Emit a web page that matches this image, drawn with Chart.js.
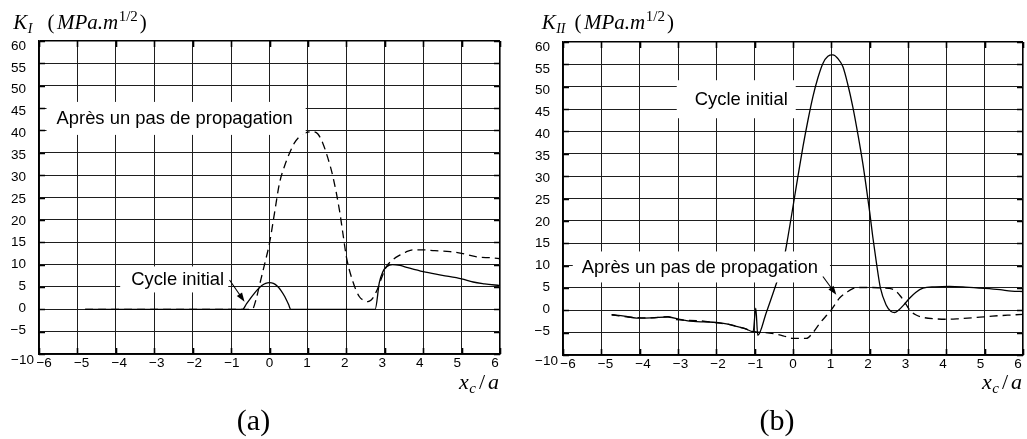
<!DOCTYPE html>
<html>
<head>
<meta charset="utf-8">
<script src="https://cdn.jsdelivr.net/npm/chart.js@4/dist/chart.umd.min.js"></script>
<style>
  html, body { margin: 0; padding: 0; background: #fff; }
  #wrap { position: relative; width: 1027px; height: 439px; overflow: hidden; }
  canvas { position: absolute; top: 0; }
</style>
</head>
<body>
<div id="wrap">
  <canvas id="chartA" width="513" height="439" style="left:0;width:513px;height:439px"></canvas>
  <canvas id="chartB" width="514" height="439" style="left:513px;width:514px;height:439px"></canvas>
</div>
<script>
// Axis ticks shared by both panels
const xTicks = [-6, -5, -4, -3, -2, -1, 0, 1, 2, 3, 4, 5, 6];
const yTicks = [-10, -5, 0, 5, 10, 15, 20, 25, 30, 35, 40, 45, 50, 55, 60];

// Panel (a): K_I versus x_c/a
const aInitialX = [-4.8, -0.7, -0.6, -0.5, -0.4, -0.3, -0.2, -0.1, 0, 0.1, 0.2, 0.3, 0.4, 0.5, 0.55,
                   2.75, 2.86, 2.95, 3.05, 3.2, 3.4, 3.6, 4.0, 4.5, 5.0, 5.3, 5.6, 6.0];
const aInitialY = [0, 0, 1.2, 2.4, 3.5, 4.5, 5.3, 5.8, 5.95, 5.8, 5.2, 4.2, 2.8, 1.0, 0,
                   0, 6.0, 8.4, 9.5, 10.0, 9.8, 9.3, 8.4, 7.6, 6.8, 6.1, 5.7, 5.3];
const aPropX = [-4.8, -0.45, -0.35, -0.26, -0.13, 0, 0.13, 0.26, 0.39, 0.52, 0.65, 0.78, 0.95, 1.13,
                1.26, 1.39, 1.52, 1.65, 1.82, 1.91, 2.0, 2.17, 2.34, 2.46, 2.56, 2.69, 2.8, 2.93, 3.04,
                3.2, 3.39, 3.55, 3.73, 4.0, 4.3, 4.7, 5.0, 5.4, 5.8, 6.0];
const aPropY = [0, 0, 2.2, 5.4, 10.0, 14.8, 21.5, 28.2, 32.0, 34.9, 37.2, 38.6, 39.5, 39.7,
                39.2, 37.1, 33.8, 29.7, 22.2, 17.0, 11.8, 6.2, 2.8, 2.0, 1.7, 2.5, 4.3, 7.3, 9.5,
                11.0, 12.1, 12.8, 13.3, 13.3, 13.1, 12.9, 12.5, 11.7, 11.5, 11.3];

// Panel (b): K_II versus x_c/a
const bInitialX = [-4.73, -4.4, -4.08, -3.7, -3.26, -2.9, -2.6, -2.3, -2.0, -1.7, -1.48, -1.25, -1.04,
                   -0.97, -0.92, -0.7, -0.43, -0.26, -0.13, 0, 0.13, 0.26, 0.39, 0.52, 0.65, 0.78, 0.91,
                   1.04, 1.17, 1.3, 1.43, 1.56, 1.69, 1.82, 1.91, 2.0, 2.08, 2.17, 2.28, 2.43, 2.55, 2.65,
                   2.75, 2.9, 3.04, 3.2, 3.39, 3.7, 4.08, 4.5, 5.0, 5.4, 5.7, 6.0];
const bInitialY = [-1.0, -1.3, -1.75, -1.7, -1.5, -2.1, -2.5, -2.6, -2.7, -3.1, -3.6, -4.1, -4.8,
                   0.5, -5.6, -0.6, 6.1, 10.5, 16.5, 23.2, 30.0, 36.6, 42.5, 47.8, 52.0, 55.2, 56.8,
                   57.1, 56.3, 54.5, 50.5, 45.5, 39.5, 32.9, 27.6, 22.0, 16.5, 11.0, 5.0, 1.2, -0.2, -0.5,
                   0.0, 1.3, 2.7, 4.0, 4.96, 5.25, 5.35, 5.2, 4.9, 4.6, 4.3, 4.2];
const bPropX = [-4.73, -4.3, -3.7, -3.26, -3.04, -2.52, -2.0, -1.65, -1.3, -1.0, -0.61, -0.26, 0.0,
                0.35, 0.52, 0.7, 0.85, 1.0, 1.22, 1.4, 1.55, 1.75, 2.0, 2.3, 2.5, 2.65, 2.8, 2.95,
                3.05, 3.2, 3.4, 3.7, 4.0, 4.3, 4.8, 5.2, 5.6, 6.0];
const bPropY = [-1.0, -1.5, -1.7, -1.4, -2.1, -2.3, -2.8, -3.2, -4.0, -4.8, -5.1, -5.7, -6.3,
                -6.3, -5.0, -2.9, -1.4, 0.1, 2.8, 4.0, 4.8, 5.1, 5.1, 5.0, 4.9, 4.5, 3.2, 1.3,
                0.0, -1.0, -1.6, -1.9, -2.0, -1.9, -1.6, -1.3, -1.1, -0.9];

const labelInitial = 'Cycle initial';
const labelProp = 'Après un pas de propagation';

const SANS = '"Liberation Sans", Arial, Helvetica, sans-serif';
const SERIF = '"Liberation Serif", "Times New Roman", serif';

function points(xs, ys) {
  return xs.map((x, i) => ({ x: x, y: ys[i] }));
}
function fmt(v) {
  return v < 0 ? '\u2212' + Math.abs(v) : String(v);
}

// Draws a run of text pieces (italic letters, subscripts, superscripts) from a start x.
function drawRich(ctx, x, baseline, pieces, alignRight) {
  let total = 0;
  pieces.forEach(p => { ctx.font = p.font; total += ctx.measureText(p.t).width + (p.gap || 0); });
  let cx = alignRight ? x - total : x;
  ctx.textAlign = 'left';
  ctx.textBaseline = 'alphabetic';
  pieces.forEach(p => {
    ctx.font = p.font;
    ctx.fillText(p.t, cx, baseline + (p.dy || 0));
    cx += ctx.measureText(p.t).width + (p.gap || 0);
  });
}

function arrow(ctx, x1, y1, x2, y2) {
  const ang = Math.atan2(y2 - y1, x2 - x1);
  const len = 9, half = 3.2;
  ctx.beginPath();
  ctx.moveTo(x1, y1);
  ctx.lineTo(x2 - Math.cos(ang) * len * 0.8, y2 - Math.sin(ang) * len * 0.8);
  ctx.lineWidth = 1.1;
  ctx.strokeStyle = '#000';
  ctx.stroke();
  ctx.beginPath();
  ctx.moveTo(x2, y2);
  ctx.lineTo(x2 - Math.cos(ang) * len - Math.sin(ang) * half, y2 - Math.sin(ang) * len + Math.cos(ang) * half);
  ctx.lineTo(x2 - Math.cos(ang) * len + Math.sin(ang) * half, y2 - Math.sin(ang) * len - Math.cos(ang) * half);
  ctx.closePath();
  ctx.fillStyle = '#000';
  ctx.fill();
}

function panelPlugin(cfg) {
  return {
    id: 'panel_' + cfg.panel,
    beforeDatasetsDraw(chart) {
      // short inward tick marks on all four borders
      const ctx = chart.ctx, a = chart.chartArea;
      const xs = chart.scales.x, ys = chart.scales.y;
      ctx.save();
      ctx.strokeStyle = '#000';
      ctx.lineWidth = 1.6;
      ctx.beginPath();
      xTicks.forEach(v => {
        const px = Math.round(xs.getPixelForValue(v)) + 0.5;
        ctx.moveTo(px, a.bottom); ctx.lineTo(px, a.bottom - 6);
        ctx.moveTo(px, a.top); ctx.lineTo(px, a.top + 6);
      });
      yTicks.forEach(v => {
        const py = Math.round(ys.getPixelForValue(v)) + 0.5;
        ctx.moveTo(a.left, py); ctx.lineTo(a.left + 6, py);
        ctx.moveTo(a.right, py); ctx.lineTo(a.right - 6, py);
      });
      ctx.stroke();
      ctx.restore();
    },
    afterDatasetsDraw(chart) {
      const ctx = chart.ctx;
      const xs = chart.scales.x, ys = chart.scales.y;
      ctx.save();
      ctx.font = '18.4px ' + SANS;
      cfg.notes.forEach(n => {
        const cx = xs.getPixelForValue(n.x), cy = ys.getPixelForValue(n.y);
        const w = ctx.measureText(n.text).width;
        const [pl, pr, pt, pb] = n.pad;
        ctx.fillStyle = '#fff';
        ctx.fillRect(cx - w / 2 - pl, cy - pt, w + pl + pr, pt + pb);
        ctx.fillStyle = '#000';
        ctx.textAlign = 'center';
        ctx.textBaseline = 'middle';
        ctx.fillText(n.text, cx, cy + 1);
      });
      cfg.arrows.forEach(ar => {
        arrow(ctx, xs.getPixelForValue(ar.from[0]), ys.getPixelForValue(ar.from[1]),
                   xs.getPixelForValue(ar.to[0]), ys.getPixelForValue(ar.to[1]));
      });
      ctx.restore();
    },
    afterDraw(chart) {
      const ctx = chart.ctx, a = chart.chartArea;
      const xs = chart.scales.x, ys = chart.scales.y;
      ctx.save();
      ctx.fillStyle = '#000';
      // tick labels
      ctx.font = '13.5px ' + SANS;
      ctx.textAlign = 'center';
      ctx.textBaseline = 'middle';
      const x0 = xs.getPixelForValue(0);
      xTicks.forEach(v => {
        const px = x0 + (xs.getPixelForValue(v) - x0) * 0.978;
        ctx.fillText(fmt(v), px, a.bottom + 9.5);
      });
      ctx.textAlign = 'right';
      const y10 = ys.getPixelForValue(10);
      yTicks.forEach(v => {
        if (v === yTicks[0]) {
          ctx.fillText(fmt(v), a.left - 5, ys.getPixelForValue(v) + 6.5);
        } else {
          ctx.fillText(fmt(v), a.left - 13, y10 + (ys.getPixelForValue(v) - y10) * 0.978);
        }
      });
      // axis titles
      const big = 'italic 21px ' + SERIF;
      drawRich(ctx, cfg.titleX, 28.5, [
        { t: 'K', font: big, gap: 0.5 },
        { t: cfg.sub, font: 'italic 14px ' + SERIF, dy: 4, gap: cfg.titleGap },
        { t: '(', font: '21px ' + SERIF, gap: 2.5 },
        { t: 'MPa.m', font: big, gap: 0.5 },
        { t: '1/2', font: '15px ' + SERIF, dy: -8, gap: 2 },
        { t: ')', font: '21px ' + SERIF }
      ], false);
      const bigx = 'italic 22px ' + SERIF;
      drawRich(ctx, a.right - 1, 389, [
        { t: 'x', font: bigx, gap: 0.5 },
        { t: 'c', font: 'italic 15px ' + SERIF, dy: 4, gap: 3 },
        { t: '/', font: '22px ' + SERIF, gap: 3 },
        { t: 'a', font: bigx }
      ], true);
      // panel letter
      ctx.font = '30px ' + SERIF;
      ctx.textAlign = 'center';
      ctx.textBaseline = 'alphabetic';
      ctx.fillText(cfg.letter, x0 - 16, 430);
      ctx.restore();
    }
  };
}

function makeChart(id, cfg) {
  const edge = c => c.tick && (c.tick.value === 60 || c.tick.value === 6);
  return new Chart(document.getElementById(id), {
    type: 'line',
    data: {
      datasets: [
        {
          label: labelInitial,
          data: points(cfg.initialX, cfg.initialY),
          borderColor: '#000', borderWidth: 1.3,
          pointRadius: 0, cubicInterpolationMode: 'monotone', fill: false
        },
        {
          label: labelProp,
          data: points(cfg.propX, cfg.propY),
          borderColor: '#000', borderWidth: 1.3, borderDash: [8, 5],
          pointRadius: 0, cubicInterpolationMode: 'monotone', fill: false
        }
      ]
    },
    options: {
      responsive: false,
      animation: false,
      devicePixelRatio: 1,
      layout: { padding: cfg.padding },
      plugins: { legend: { display: false }, tooltip: { enabled: false } },
      scales: {
        x: {
          type: 'linear', min: -6, max: 6,
          afterBuildTicks: s => { s.ticks = xTicks.map(v => ({ value: v })); },
          afterFit: s => { s.height = cfg.xAxisHeight; },
          ticks: { display: false },
          grid: { color: c => edge(c) ? '#000' : '#1e1e1e', lineWidth: c => edge(c) ? 1.6 : 1, drawTicks: false },
          border: { display: true, color: '#000', width: 1.6 }
        },
        y: {
          type: 'linear', min: -10, max: 60,
          afterBuildTicks: s => { s.ticks = yTicks.map(v => ({ value: v })); },
          afterFit: s => { s.width = cfg.yAxisWidth; },
          ticks: { display: false },
          grid: { color: c => edge(c) ? '#000' : '#1e1e1e', lineWidth: c => edge(c) ? 1.6 : 1, drawTicks: false },
          border: { display: true, color: '#000', width: 1.6 }
        }
      }
    },
    plugins: [panelPlugin(cfg)]
  });
}

makeChart('chartA', {
  panel: 'a', letter: '(a)', sub: 'I', titleX: 13.3, titleGap: 15,
  initialX: aInitialX, initialY: aInitialY, propX: aPropX, propY: aPropY,
  padding: { left: 0, top: 41, right: 13, bottom: 0 },
  yAxisWidth: 39, xAxisHeight: 85,
  notes: [
    { text: labelProp, x: -2.47, y: 42.8, pad: [10, 13, 16, 17] },
    { text: labelInitial, x: -2.39, y: 6.9, pad: [11, 4, 12, 14] }
  ],
  arrows: [ { from: [-1.04, 6.55], to: [-0.65, 1.7] } ]
});

makeChart('chartB', {
  panel: 'b', letter: '(b)', sub: 'II', titleX: 28.7, titleGap: 9,
  initialX: bInitialX, initialY: bInitialY, propX: bPropX, propY: bPropY,
  padding: { left: 0, top: 42, right: 4, bottom: 0 },
  yAxisWidth: 50, xAxisHeight: 84,
  notes: [
    { text: labelInitial, x: -1.35, y: 47.2, pad: [18, 8, 19, 19] },
    { text: labelProp, x: -2.43, y: 9.8, pad: [9, 12, 15, 16] }
  ],
  arrows: [ { from: [0.78, 7.55], to: [1.13, 3.46] } ]
});
</script>
</body>
</html>
